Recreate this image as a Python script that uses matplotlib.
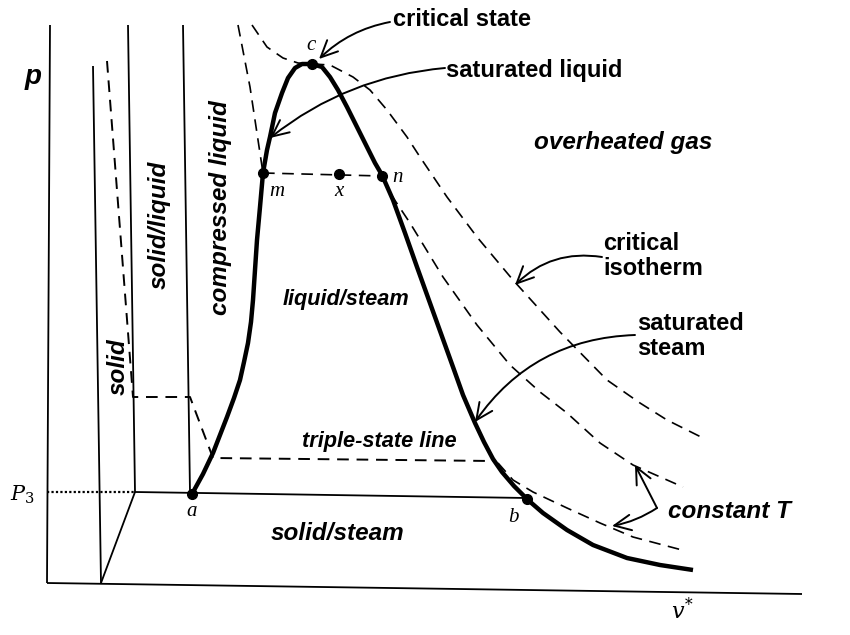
import matplotlib
matplotlib.use('Agg')
import matplotlib.pyplot as plt

# ---------------- data (picture coordinates, y grows downward) ----------------
# axes frame
p_axis_x = [50, 47]
p_axis_y = [25, 583]
v_axis_x = [47, 802]
v_axis_y = [583, 594]

# solid phase boundary lines
line2_x = [93, 101]
line2_y = [66, 583]
line3_x = [128, 135, 101]
line3_y = [25, 492, 583]
line4_x = [183, 190]
line4_y = [25, 493]
triple_solid_x = [135, 527]
triple_solid_y = [492, 498]
p3_x = [47, 135]
p3_y = [492, 492]

# saturation dome (thick)
dome_x = [192, 203, 213, 220, 227, 234, 240, 244, 248, 251, 253, 255, 257, 260, 263, 267, 270,
          275, 282, 288, 295, 302, 312, 322, 330, 338, 347, 357, 367, 375, 382, 393, 405, 417,
          426, 435, 444, 453, 463, 475, 484, 493, 502, 514, 528, 543, 567, 593, 627, 660, 693]
dome_y = [494, 474, 453, 435, 417, 398, 380, 362, 343, 322, 300, 270, 240, 207, 173, 150, 137,
          113, 93, 78, 68, 64, 64, 67, 77, 90, 107, 127, 147, 163, 175, 200, 233, 267,
          292, 317, 342, 367, 395, 423, 442, 459, 472, 486, 500, 513, 530, 545, 558, 565, 570]

# dashed curves
crit_iso_x = [252, 267, 283, 298, 312, 330, 353, 370, 387, 407, 420, 447, 477, 513, 560, 607, 640, 667, 703]
crit_iso_y = [25, 47, 58, 63, 64, 65, 77, 90, 110, 137, 157, 197, 237, 280, 332, 380, 403, 420, 438]
mid_iso_x = [383, 390, 410, 443, 477, 510, 540, 567, 600, 633, 683]
mid_iso_y = [177, 193, 223, 277, 325, 365, 392, 413, 443, 465, 487]
low_iso_x = [498, 513, 533, 567, 600, 633, 682]
low_iso_y = [463, 480, 492, 508, 523, 537, 550]
comp_liq_x = [238, 250, 263]
comp_liq_y = [25, 87, 173]
solid_dash_x = [107, 133, 190, 213, 493]
solid_dash_y = [61, 397, 397, 458, 461]
mxn_x = [263, 382]
mxn_y = [173, 176]

# state points
pt_names = ['c', 'm', 'x', 'n', 'a', 'b']
pt_x = [312, 263, 339, 382, 192, 527]
pt_y = [64, 173, 174, 176, 494, 499]
pt_label_x = [311, 277, 339, 398, 192, 513]
pt_label_y = [46, 192, 192, 177, 512, 517]

# ---------------- drawing ----------------
fig = plt.figure(figsize=(8.5, 6.35), dpi=100)
ax = fig.add_axes([0, 0, 1, 1])
ax.set_xlim(0, 850)
ax.set_ylim(635, 0)
ax.axis('off')

thin = dict(color='black', lw=1.3, solid_capstyle='butt')
for xs, ys in [(p_axis_x, p_axis_y), (v_axis_x, v_axis_y), (line2_x, line2_y),
               (line3_x, line3_y), (line4_x, line4_y), (triple_solid_x, triple_solid_y)]:
    ax.plot(xs, ys, **thin)
ax.plot(p3_x, p3_y, color='black', lw=1.6, ls=(0, (1, 1)))

ax.plot(dome_x, dome_y, color='black', lw=3.2, solid_joinstyle='round', solid_capstyle='butt')

dash = dict(color='black', lw=1.2, ls=(0, (7, 4.5)))
for xs, ys in [(crit_iso_x, crit_iso_y), (mid_iso_x, mid_iso_y), (low_iso_x, low_iso_y),
               (comp_liq_x, comp_liq_y), (mxn_x, mxn_y)]:
    ax.plot(xs, ys, **dash)
ax.plot(solid_dash_x, solid_dash_y, color='black', lw=1.4, ls=(0, (6, 4)))

ax.plot(pt_x, pt_y, 'o', color='black', ms=7, zorder=5)

serif = dict(family='Liberation Serif', style='italic', fontsize=15, ha='center', va='center')
for name, lx, ly in zip(pt_names, pt_label_x, pt_label_y):
    ax.text(lx, ly, name, **serif)
ax.text(22, 495, '$P_3$', fontsize=15, ha='center', va='center',
        math_fontfamily='dejavuserif')
ax.text(682, 610, r'$v^{*}$', fontsize=16, ha='center', va='center',
        math_fontfamily='dejavuserif')
ax.text(33, 77, 'p', family='Liberation Sans', weight='bold', style='italic',
        fontsize=20, ha='center', va='center')

lab = dict(family='Liberation Sans', weight='bold', fontsize=17)
ital = dict(family='Liberation Sans', weight='bold', style='italic', fontsize=17.5,
            ha='center', va='center')

ax.text(346, 300, 'liquid/steam', **dict(ital, fontsize=15.7))
ax.text(623, 142, 'overheated gas', **ital)
ax.text(379, 442, 'triple-state line', **dict(ital, fontsize=15.7))
ax.text(338, 533, 'solid/steam', **ital)
ax.text(668, 512, 'constant T', family='Liberation Sans', weight='bold', style='italic',
        fontsize=17.5, ha='left', va='center')
ax.text(221, 208, 'compressed liquid', rotation=90, **ital)
ax.text(159, 225, 'solid/liquid', rotation=90, **ital)
ax.text(118, 367, 'solid', rotation=90, **ital)

aprops = dict(arrowstyle='->,head_length=0.6,head_width=0.28', color='black', lw=1.4,
              shrinkA=0, shrinkB=0, mutation_scale=20)

def arrow(text, tx, ty, hx, hy, sx, sy, rad, **kw):
    ax.text(tx, ty, text, ha='left', va='center', **kw)
    ax.annotate('', xy=(hx, hy), xytext=(sx, sy),
                arrowprops=dict(aprops, connectionstyle=f'arc3,rad={rad}'))

arrow('critical state', 393, 20, 319, 59, 390, 22, 0.15, **lab)
arrow('saturated liquid', 446, 70, 270, 138, 445, 68, 0.15, **lab)
arrow('critical\nisotherm', 603, 256, 515, 285, 602, 257, 0.25, linespacing=1.15, **lab)
arrow('saturated\nsteam', 637, 336, 475, 422, 635, 335, 0.25, linespacing=1.15, **lab)
ax.annotate('', xy=(635, 465), xytext=(657, 508), arrowprops=dict(aprops, connectionstyle='arc3,rad=0'))
ax.annotate('', xy=(612, 526), xytext=(657, 508), arrowprops=dict(aprops, connectionstyle='arc3,rad=-0.1'))

fig.savefig('out.png', dpi=100, facecolor='white')
